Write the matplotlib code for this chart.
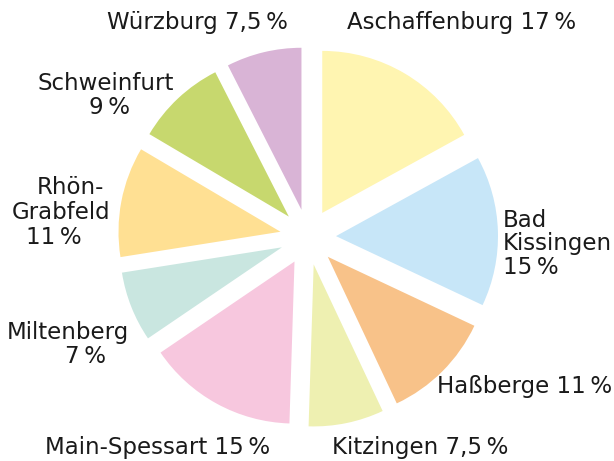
import matplotlib
matplotlib.use("Agg")
import matplotlib.pyplot as plt

districts = ["Aschaffenburg", "Bad Kissingen", "Haßberge", "Kitzingen", "Main-Spessart",
             "Miltenberg", "Rhön-Grabfeld", "Schweinfurt", "Würzburg"]
shares = [17, 15, 11, 7.5, 15, 7, 11, 9, 7.5]
colors = ["#FFF5B1", "#C7E6F8", "#F8C289", "#EEF0B1", "#F7C7DE",
          "#C9E6E0", "#FFE093", "#C7D86E", "#D9B4D6"]
label_lines = [
    ["Aschaffenburg 17\u202f%"],
    ["Bad", "Kissingen", "15\u202f%"],
    ["Haßberge 11\u202f%"],
    ["Kitzingen 7,5\u202f%"],
    ["Main-Spessart 15\u202f%"],
    ["Miltenberg", "7\u202f%"],
    ["Rhön-", "Grabfeld", "11\u202f%"],
    ["Schweinfurt", "9\u202f%"],
    ["Würzburg 7,5\u202f%"],
]
# label line anchors in pixels (x, y from top, horizontal alignment)
label_pos = [
    [(462, 23, 'center')],
    [(503, 220, 'left'), (503, 243, 'left'), (503, 267, 'left')],
    [(525, 386, 'center')],
    [(420, 447, 'center')],
    [(158, 447, 'center')],
    [(68, 332, 'center'), (85, 356, 'center')],
    [(70, 188, 'center'), (61, 212, 'center'), (54, 237, 'center')],
    [(106, 83, 'center'), (109, 107, 'center')],
    [(197, 23, 'center')],
]

W, H = 614, 461
R = 162.0
cx, cy = 308, 237

plt.rcParams['font.family'] = ['DejaVu Sans']
fig = plt.figure(figsize=(W / 100, H / 100), dpi=100)
ax = fig.add_axes([0, 0, 1, 1])
ax.pie(shares, colors=colors, startangle=90, counterclock=False,
       explode=[28 / R] * len(shares), radius=1,
       wedgeprops=dict(linewidth=0))
ax.set_xlim(-cx / R, (W - cx) / R)
ax.set_ylim(-(H - cy) / R, cy / R)
ax.set_aspect('auto')
ax.axis('off')

def to_data(px, py):
    return (px - cx) / R, (cy - py) / R

for lines, poss in zip(label_lines, label_pos):
    for txt, (px, py, ha) in zip(lines, poss):
        x, y = to_data(px, py)
        ax.text(x, y, txt, ha=ha, va='center', fontsize=16.5, color='#1a1a1a')

fig.savefig("out.png", dpi=100)
